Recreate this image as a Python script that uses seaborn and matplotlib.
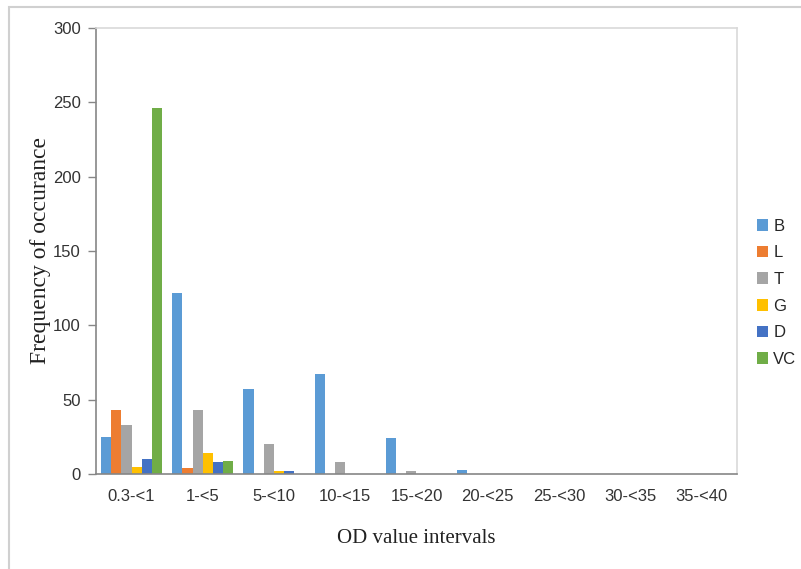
import pandas as pd
import matplotlib.pyplot as plt
import seaborn as sns
from matplotlib.patches import Rectangle

intervals = ["0.3-<1", "1-<5", "5-<10", "10-<15", "15-<20",
             "20-<25", "25-<30", "30-<35", "35-<40"]
series = ["B", "L", "T", "G", "D", "VC"]
b_vals = [25, 122, 57, 67, 24, 3, 0, 0, 0]
l_vals = [43, 4, 0, 0, 0, 0, 0, 0, 0]
t_vals = [33, 43, 20, 8, 2, 0, 0, 0, 0]
g_vals = [5, 14, 2, 0, 0, 0, 0, 0, 0]
d_vals = [10, 8, 2, 0, 0, 0, 0, 0, 0]
vc_vals = [246, 9, 0, 0, 0, 0, 0, 0, 0]
colors = ["#5B9BD5", "#ED7D31", "#A5A5A5", "#FFC000", "#4472C4", "#70AD47"]

rows = []
for name, vals in zip(series, [b_vals, l_vals, t_vals, g_vals, d_vals, vc_vals]):
    for cat, v in zip(intervals, vals):
        rows.append({"interval": cat, "series": name, "count": v})
df = pd.DataFrame(rows)

sns.set_style("white")
plt.rcParams["font.family"] = ["Liberation Sans", "DejaVu Sans"]

fig = plt.figure(figsize=(8.01, 5.69), dpi=100)
ax = fig.add_axes([96 / 801, 1 - 474 / 569, (737 - 96) / 801, (474 - 28) / 569])

sns.barplot(data=df, x="interval", y="count", hue="series", order=intervals,
            hue_order=series, palette=colors, width=0.86, saturation=1,
            errorbar=None, linewidth=0, ax=ax)

ax.set_xlim(-0.5, len(intervals) - 0.5)
ax.set_ylim(0, 300)
ax.set_yticks(range(0, 301, 50))
ax.set_xticks([i + 0.5 for i in range(-1, len(intervals))], minor=True)
ax.tick_params(axis="x", which="major", length=0, pad=11, labelsize=12, colors="#333333")
ax.tick_params(axis="x", which="minor", length=7, width=1, color="#868686", direction="out")
ax.tick_params(axis="y", length=6, width=1, color="#868686", direction="out",
               pad=5, labelsize=12, labelcolor="#333333", left=True)

for side in ["left", "bottom"]:
    ax.spines[side].set_color("#868686")
    ax.spines[side].set_linewidth(1.2)
for side in ["top", "right"]:
    ax.spines[side].set_color("#D9D9D9")
    ax.spines[side].set_linewidth(1.2)

ax.set_xlabel("OD value intervals", family="Liberation Serif", fontsize=15,
              labelpad=18, color="#222222")
ax.set_ylabel("Frequency of occurance", family="Liberation Serif", fontsize=17,
              labelpad=1, color="#222222")

ax.legend(loc="upper left", bbox_to_anchor=(750 / 801, 1 - 212 / 569),
          bbox_transform=fig.transFigure, frameon=False, fontsize=12,
          handlelength=0.7, handleheight=0.7, handletextpad=0.3,
          labelspacing=0.7, borderaxespad=0)

fig.patches.append(Rectangle((9 / 801, -0.05), 1.0, 1 - 7 / 569 + 0.05,
                             transform=fig.transFigure, fill=False,
                             edgecolor="#D0D0D0", linewidth=1.5))

fig.savefig("out.png", dpi=100)
